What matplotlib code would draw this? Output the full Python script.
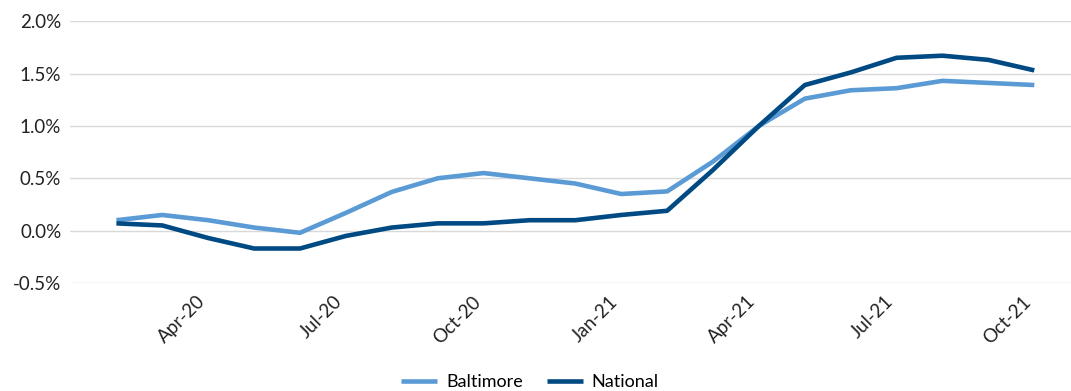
import matplotlib
matplotlib.use("Agg")
from matplotlib import pyplot as plt
from matplotlib.ticker import FuncFormatter

months = ['Feb-20', 'Mar-20', 'Apr-20', 'May-20', 'Jun-20', 'Jul-20', 'Aug-20',
          'Sep-20', 'Oct-20', 'Nov-20', 'Dec-20', 'Jan-21', 'Feb-21', 'Mar-21',
          'Apr-21', 'May-21', 'Jun-21', 'Jul-21', 'Aug-21', 'Sep-21', 'Oct-21']
baltimore = [0.10, 0.15, 0.10, 0.03, -0.02, 0.17, 0.37, 0.50, 0.55, 0.50, 0.45,
             0.35, 0.375, 0.66, 1.00, 1.26, 1.34, 1.36, 1.43, 1.41, 1.39]
national = [0.07, 0.05, -0.07, -0.17, -0.17, -0.05, 0.03, 0.07, 0.07, 0.10, 0.10,
            0.15, 0.19, 0.58, 1.00, 1.39, 1.51, 1.65, 1.67, 1.63, 1.53]
shown_ticks = ['Apr-20', 'Jul-20', 'Oct-20', 'Jan-21', 'Apr-21', 'Jul-21', 'Oct-21']

plt.rcParams['font.family'] = ['Lato', 'DejaVu Sans']

fig = plt.figure(figsize=(10.71, 3.91), dpi=100)
ax = fig.add_axes([0.065, 0.276, 0.935, 0.67])

x = list(range(len(months)))
ax.plot(x, baltimore, color='#5B9BD5', lw=3.3, label='Baltimore', solid_capstyle='butt')
ax.plot(x, national, color='#004A84', lw=3.3, label='National', solid_capstyle='butt')

ax.set_ylim(-0.5, 2.0)
ax.set_yticks([-0.5, 0.0, 0.5, 1.0, 1.5, 2.0])
ax.yaxis.set_major_formatter(FuncFormatter(lambda v, p: f'{v:.1f}%'))
ax.set_xlim(-1.02, 20.8)

tick_pos = [months.index(m) for m in shown_ticks]
ax.set_xticks(tick_pos)
ax.set_xticklabels(shown_ticks, rotation=45, ha='right')

ax.grid(axis='y', color='#d9d9d9', lw=1)
ax.set_axisbelow(True)
for s in ax.spines.values():
    s.set_visible(False)
ax.tick_params(axis='both', length=0, labelsize=13.5, colors='#222222')
ax.tick_params(axis='x', pad=7)
ax.tick_params(axis='y', pad=6)

fig.legend(loc='lower center', bbox_to_anchor=(0.495, -0.04), ncol=2, frameon=False,
           fontsize=13, handlelength=2.0, columnspacing=1.3, handletextpad=0.5)

fig.savefig('out.png', dpi=100)
